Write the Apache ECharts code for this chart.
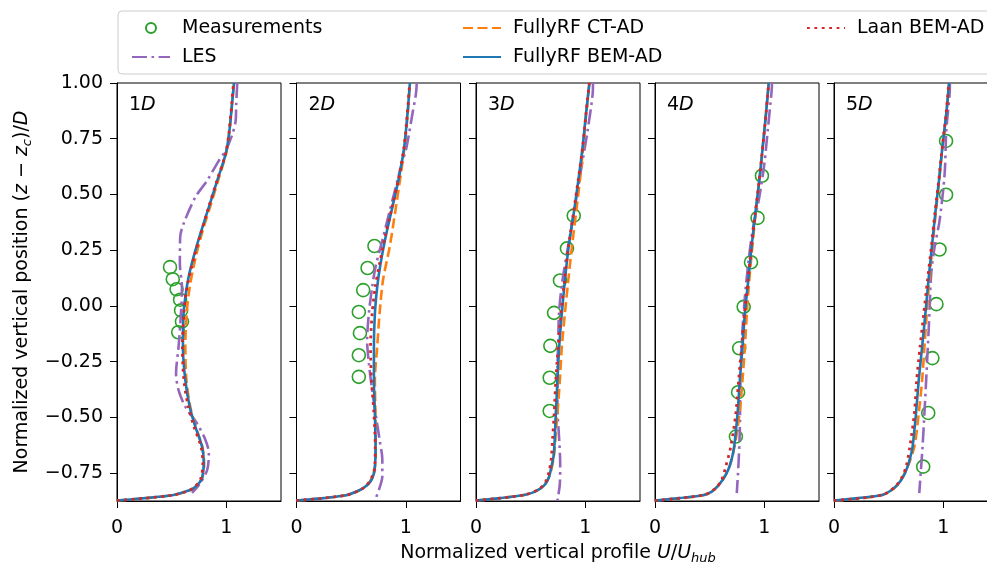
<!DOCTYPE html>
<html><head><meta charset="utf-8">
<script src="https://cdn.jsdelivr.net/npm/echarts@6/dist/echarts.min.js"></script>
<style>html,body{margin:0;padding:0;background:#fff}#c{width:987px;height:563px}</style>
</head><body><div id="c"></div>
<script>
// ---------- DATA ----------
const panelLabels = ['1', '2', '3', '4', '5'];
const xTicks = [0, 1];
const yTicks = [-0.75, -0.5, -0.25, 0, 0.25, 0.5, 0.75, 1.0];
const seriesNames = ['Measurements', 'LES', 'FullyRF CT-AD', 'FullyRF BEM-AD', 'Laan BEM-AD'];

// Panel 1D
const meas1 = [[0.485,0.174],[0.51,0.12],[0.545,0.075],[0.577,0.028],[0.586,-0.02],[0.594,-0.07],[0.56,-0.118]];
const les1 = [[1.1,1.0],[1.09,0.9],[1.085,0.83],[1.055,0.77],[0.994,0.697],[0.932,0.652],[0.825,0.563],[0.717,0.488],[0.609,0.369],[0.578,0.309],[0.575,0.19],[0.594,0.085],[0.585,-0.034],[0.563,-0.184],[0.54,-0.303],[0.563,-0.378],[0.625,-0.452],[0.732,-0.527],[0.809,-0.601],[0.84,-0.661],[0.825,-0.736],[0.763,-0.794],[0.686,-0.839]];
const ct1 = [[0,-0.873],[0.517,-0.848],[0.70,-0.818],[0.778,-0.773],[0.797,-0.706],[0.78,-0.631],[0.72,-0.542],[0.67,-0.452],[0.635,-0.333],[0.625,-0.184],[0.637,-0.034],[0.665,0.085],[0.72,0.219],[0.785,0.34],[0.855,0.45],[0.925,0.563],[0.997,0.682],[1.025,0.772],[1.055,0.921],[1.07,1.0]];
const bem1 = [[0,-0.873],[0.25,-0.862],[0.517,-0.848],[0.63,-0.832],[0.70,-0.818],[0.75,-0.795],[0.778,-0.773],[0.794,-0.706],[0.778,-0.631],[0.717,-0.542],[0.665,-0.452],[0.625,-0.333],[0.603,-0.184],[0.609,-0.034],[0.625,0.04],[0.655,0.13],[0.70,0.219],[0.763,0.324],[0.84,0.443],[0.917,0.563],[0.994,0.682],[1.025,0.772],[1.055,0.921],[1.07,1.0]];
const laan1 = [[0,-0.873],[0.517,-0.848],[0.69,-0.82],[0.765,-0.775],[0.785,-0.706],[0.768,-0.631],[0.705,-0.542],[0.652,-0.452],[0.612,-0.333],[0.598,-0.184],[0.612,-0.034],[0.632,0.06],[0.665,0.14],[0.705,0.219],[0.765,0.324],[0.838,0.443],[0.915,0.563],[0.993,0.682],[1.023,0.772],[1.052,0.921],[1.065,1.0]];

// Panel 2D
const meas2 = [[0.713,0.269],[0.65,0.17],[0.61,0.071],[0.57,-0.027],[0.58,-0.122],[0.57,-0.221],[0.57,-0.318]];
const les2 = [[1.1,1.0],[1.092,0.95],[1.06,0.861],[1.006,0.712],[0.954,0.622],[0.9,0.518],[0.846,0.413],[0.785,0.294],[0.723,0.175],[0.692,0.085],[0.662,-0.034],[0.646,-0.154],[0.662,-0.258],[0.692,-0.378],[0.723,-0.482],[0.76,-0.601],[0.785,-0.69],[0.785,-0.764],[0.754,-0.824],[0.717,-0.873]];
const ct2 = [[0,-0.873],[0.462,-0.848],[0.631,-0.81],[0.708,-0.751],[0.725,-0.631],[0.722,-0.482],[0.717,-0.333],[0.738,-0.184],[0.76,-0.034],[0.791,0.115],[0.852,0.264],[0.9,0.413],[0.945,0.56],[0.988,0.712],[1.017,0.861],[1.037,1.0]];
const bem2 = [[0,-0.873],[0.25,-0.862],[0.462,-0.848],[0.57,-0.828],[0.631,-0.81],[0.68,-0.785],[0.708,-0.751],[0.72,-0.7],[0.723,-0.631],[0.717,-0.482],[0.708,-0.333],[0.708,-0.184],[0.717,-0.034],[0.738,0.085],[0.769,0.19],[0.815,0.309],[0.877,0.443],[0.938,0.578],[0.985,0.712],[1.015,0.861],[1.037,1.0]];
const laan2 = [[0,-0.873],[0.462,-0.848],[0.625,-0.812],[0.7,-0.755],[0.718,-0.7],[0.72,-0.631],[0.708,-0.482],[0.686,-0.333],[0.677,-0.184],[0.692,-0.034],[0.72,0.085],[0.76,0.19],[0.81,0.309],[0.874,0.443],[0.936,0.578],[0.983,0.712],[1.013,0.861],[1.035,1.0]];

// Panel 3D
const meas3 = [[0.894,0.405],[0.832,0.258],[0.768,0.114],[0.714,-0.031],[0.68,-0.179],[0.674,-0.322],[0.674,-0.471]];
const les3 = [[1.07,1.0],[1.067,0.951],[1.021,0.787],[0.975,0.652],[0.929,0.518],[0.883,0.384],[0.831,0.234],[0.791,0.115],[0.761,-0.019],[0.752,-0.154],[0.745,-0.303],[0.745,-0.452],[0.761,-0.601],[0.77,-0.706],[0.767,-0.796],[0.745,-0.873]];
const ct3 = [[0,-0.873],[0.439,-0.848],[0.592,-0.818],[0.669,-0.766],[0.712,-0.676],[0.73,-0.57],[0.745,-0.482],[0.767,-0.333],[0.785,-0.184],[0.813,-0.034],[0.844,0.115],[0.877,0.264],[0.914,0.413],[0.95,0.563],[0.98,0.712],[1.008,0.861],[1.037,1.0]];
const bem3 = [[0,-0.873],[0.22,-0.862],[0.439,-0.848],[0.53,-0.835],[0.592,-0.818],[0.64,-0.795],[0.669,-0.766],[0.69,-0.72],[0.709,-0.676],[0.72,-0.6],[0.73,-0.482],[0.745,-0.333],[0.761,-0.184],[0.785,-0.034],[0.813,0.115],[0.847,0.264],[0.893,0.413],[0.936,0.563],[0.975,0.712],[1.006,0.861],[1.037,1.0]];
const laan3 = [[0,-0.873],[0.439,-0.848],[0.58,-0.82],[0.64,-0.785],[0.67,-0.74],[0.69,-0.676],[0.7,-0.6],[0.715,-0.482],[0.73,-0.333],[0.752,-0.184],[0.778,-0.034],[0.81,0.115],[0.845,0.264],[0.89,0.413],[0.934,0.563],[0.975,0.712],[1.006,0.861],[1.037,1.0]];

// Panel 4D
const meas4 = [[0.978,0.584],[0.938,0.395],[0.878,0.196],[0.811,-0.004],[0.77,-0.19],[0.76,-0.387],[0.74,-0.586]];
const les4 = [[1.07,1.0],[1.067,0.966],[1.031,0.787],[1.0,0.637],[0.954,0.488],[0.893,0.339],[0.853,0.19],[0.822,0.04],[0.8,-0.109],[0.785,-0.258],[0.779,-0.407],[0.776,-0.557],[0.764,-0.706],[0.748,-0.84]];
const ct4 = [[0,-0.873],[0.448,-0.848],[0.571,-0.81],[0.669,-0.736],[0.727,-0.631],[0.773,-0.482],[0.8,-0.333],[0.822,-0.184],[0.84,-0.034],[0.862,0.115],[0.89,0.264],[0.92,0.413],[0.955,0.563],[0.985,0.712],[1.015,0.861],[1.04,1.0]];
const bem4 = [[0,-0.873],[0.22,-0.862],[0.448,-0.848],[0.52,-0.833],[0.571,-0.81],[0.625,-0.775],[0.669,-0.736],[0.7,-0.69],[0.724,-0.631],[0.755,-0.482],[0.776,-0.333],[0.8,-0.184],[0.822,-0.034],[0.853,0.115],[0.883,0.264],[0.917,0.413],[0.954,0.563],[0.985,0.712],[1.015,0.861],[1.04,1.0]];
const laan4 = [[0,-0.873],[0.448,-0.848],[0.55,-0.82],[0.61,-0.78],[0.647,-0.721],[0.693,-0.631],[0.739,-0.482],[0.765,-0.333],[0.792,-0.184],[0.818,-0.034],[0.85,0.115],[0.881,0.264],[0.916,0.413],[0.953,0.563],[0.985,0.712],[1.015,0.861],[1.04,1.0]];

// Panel 5D
const meas5 = [[1.025,0.74],[1.025,0.499],[0.965,0.253],[0.937,0.008],[0.9,-0.234],[0.862,-0.48],[0.816,-0.721]];
const les5 = [[1.06,1.0],[1.059,0.966],[1.027,0.787],[1.012,0.593],[0.966,0.384],[0.92,0.264],[0.889,0.145],[0.873,-0.034],[0.858,-0.184],[0.843,-0.333],[0.827,-0.482],[0.81,-0.631],[0.795,-0.736],[0.78,-0.84]];
const ct5 = [[0,-0.873],[0.441,-0.848],[0.58,-0.803],[0.673,-0.721],[0.735,-0.631],[0.775,-0.482],[0.806,-0.333],[0.827,-0.184],[0.848,-0.034],[0.872,0.115],[0.9,0.264],[0.93,0.413],[0.962,0.563],[0.992,0.712],[1.027,0.861],[1.052,1.0]];
const bem5 = [[0,-0.873],[0.22,-0.862],[0.441,-0.848],[0.52,-0.828],[0.58,-0.803],[0.635,-0.765],[0.673,-0.721],[0.7,-0.675],[0.719,-0.631],[0.75,-0.482],[0.775,-0.333],[0.806,-0.184],[0.836,-0.034],[0.864,0.115],[0.895,0.264],[0.926,0.413],[0.96,0.563],[0.991,0.712],[1.027,0.861],[1.052,1.0]];
const laan5 = [[0,-0.873],[0.441,-0.848],[0.56,-0.81],[0.62,-0.77],[0.66,-0.72],[0.694,-0.631],[0.735,-0.482],[0.756,-0.333],[0.787,-0.184],[0.821,-0.034],[0.855,0.115],[0.89,0.264],[0.922,0.413],[0.958,0.563],[0.99,0.712],[1.025,0.861],[1.05,1.0]];

const measAll = [meas1, meas2, meas3, meas4, meas5];
const lesAll = [les1, les2, les3, les4, les5];
const ctAll = [ct1, ct2, ct3, ct4, ct5];
const bemAll = [bem1, bem2, bem3, bem4, bem5];
const laanAll = [laan1, laan2, laan3, laan4, laan5];

// ---------- LAYOUT / STYLE ----------
const FONT = 'DejaVu Sans';
const panelLeft = [117, 296.5, 476, 655, 834];
const panelWidth = 164;
const gridTop = 83, gridHeight = 418;
const C = {green:'#2ca02c', purple:'#9467bd', orange:'#ff7f0e', blue:'#1f77b4', red:'#d62728'};

const fmtY = v => (v < 0 ? '\u2212' : '') + Math.abs(v).toFixed(2);

const grids = [], xAxes = [], yAxes = [], series = [], graphics = [];
panelLeft.forEach((left, i) => {
  grids.push({left: left, top: gridTop, width: panelWidth, height: gridHeight,
    outerBoundsMode: 'none', containLabel: false,
    show: true, borderColor: '#000', borderWidth: 1, backgroundColor: 'rgba(0,0,0,0)'});
  const xa = {gridIndex: i, type: 'value', min: 0, max: 1.5, interval: 1,
    axisLine: {show: true, onZero: false, lineStyle: {color: '#000', width: 1}},
    axisTick: {show: true, length: 7, customValues: xTicks, lineStyle: {color: '#000', width: 1}},
    axisLabel: {customValues: xTicks, fontSize: 19, fontFamily: FONT, color: '#000', margin: 18},
    splitLine: {show: false}};
  if (i === 2) {
    xa.name = '{t|Normalized vertical profile }{i|U}{t|/}{i|U}{s|hub}';
    xa.nameLocation = 'middle';
    xa.nameGap = 41;
    xa.nameTextStyle = {fontSize: 19, fontFamily: FONT, color: '#000',
      rich: {t: {fontSize: 19, fontFamily: FONT, color: '#000'},
             i: {fontSize: 19, fontFamily: FONT, fontStyle: 'italic', color: '#000'},
             s: {fontSize: 13, fontFamily: FONT, fontStyle: 'italic', color: '#000', padding: [10, 0, 0, 0]}}};
  }
  xAxes.push(xa);
  const ya = {gridIndex: i, type: 'value', min: -0.875, max: 1.0,
    axisLine: {show: true, onZero: false, lineStyle: {color: '#000', width: 1}},
    axisTick: {show: true, length: 7, customValues: yTicks, lineStyle: {color: '#000', width: 1}},
    axisLabel: {show: i === 0, customValues: yTicks, formatter: fmtY, fontSize: 19, fontFamily: FONT, color: '#000', margin: 14},
    splitLine: {show: false}};
  if (i === 0) {
    ya.name = '{t|Normalized vertical position (}{i|z}{t| \u2212 }{i|z}{s|c}{t|)/}{i|D}';
    ya.nameLocation = 'middle';
    ya.nameRotate = 90;
    ya.nameGap = 83;
    ya.nameTextStyle = {fontSize: 19, fontFamily: FONT, color: '#000',
      rich: {t: {fontSize: 19, fontFamily: FONT, color: '#000'},
             i: {fontSize: 19, fontFamily: FONT, fontStyle: 'italic', color: '#000'},
             s: {fontSize: 13, fontFamily: FONT, fontStyle: 'italic', color: '#000', padding: [10, 0, 0, 0]}}};
  }
  yAxes.push(ya);

  series.push({type: 'scatter', name: seriesNames[0], xAxisIndex: i, yAxisIndex: i, data: measAll[i],
    symbol: 'circle', symbolSize: 13, z: 2,
    itemStyle: {color: 'rgba(255,255,255,0)', borderColor: C.green, borderWidth: 1.6, opacity: 1}});
  series.push({type: 'line', name: seriesNames[1], xAxisIndex: i, yAxisIndex: i, data: lesAll[i],
    symbol: 'none', smooth: 0.3, z: 3, itemStyle: {color: C.purple},
    lineStyle: {color: C.purple, width: 2.6, type: [15, 4.5, 2.6, 4.5]}});
  series.push({type: 'line', name: seriesNames[2], xAxisIndex: i, yAxisIndex: i, data: ctAll[i],
    symbol: 'none', smooth: 0.3, z: 4, itemStyle: {color: C.orange},
    lineStyle: {color: C.orange, width: 2.6, type: [10, 4.5]}});
  series.push({type: 'line', name: seriesNames[3], xAxisIndex: i, yAxisIndex: i, data: bemAll[i],
    symbol: 'none', smooth: 0.3, z: 5, itemStyle: {color: C.blue},
    lineStyle: {color: C.blue, width: 2.6}});
  series.push({type: 'line', name: seriesNames[4], xAxisIndex: i, yAxisIndex: i, data: laanAll[i],
    symbol: 'none', smooth: 0.3, z: 6, itemStyle: {color: C.red},
    lineStyle: {color: C.red, width: 2.8, type: [2.8, 4.6]}});

  graphics.push({type: 'text', left: left + 12, top: 96, z: 10,
    style: {text: '{n|' + panelLabels[i] + '}{d|D}',
      rich: {n: {fontSize: 19, fontFamily: FONT, fill: '#000'},
             d: {fontSize: 19, fontFamily: FONT, fontStyle: 'italic', fill: '#000'}}}});
});

graphics.unshift({type: 'rect', left: 117.5, top: 10.5, z: -1,
  shape: {width: 900, height: 63, r: 4},
  style: {fill: '#fff', stroke: '#cccccc', lineWidth: 1}});

const hideSym = {opacity: 0};
const legendBase = {orient: 'vertical', top: 12, itemWidth: 38, itemHeight: 10, itemGap: 7,
  textStyle: {fontSize: 19, fontFamily: FONT, color: '#000', lineHeight: 22, padding: [0, 0, 0, 7]}};
const legends = [
  Object.assign({}, legendBase, {left: 126, data: [seriesNames[0], {name: seriesNames[1], itemStyle: hideSym}]}),
  Object.assign({}, legendBase, {left: 457, data: [{name: seriesNames[2], itemStyle: hideSym}, {name: seriesNames[3], itemStyle: hideSym}]}),
  Object.assign({}, legendBase, {left: 801, data: [{name: seriesNames[4], itemStyle: hideSym}]})
];

const chart = echarts.init(document.getElementById('c'), null, {renderer: 'canvas'});
chart.setOption({
  backgroundColor: '#fff',
  animation: false,
  textStyle: {fontFamily: FONT},
  grid: grids, xAxis: xAxes, yAxis: yAxes,
  legend: legends,
  graphic: graphics,
  series: series
});
</script>
</body></html>
